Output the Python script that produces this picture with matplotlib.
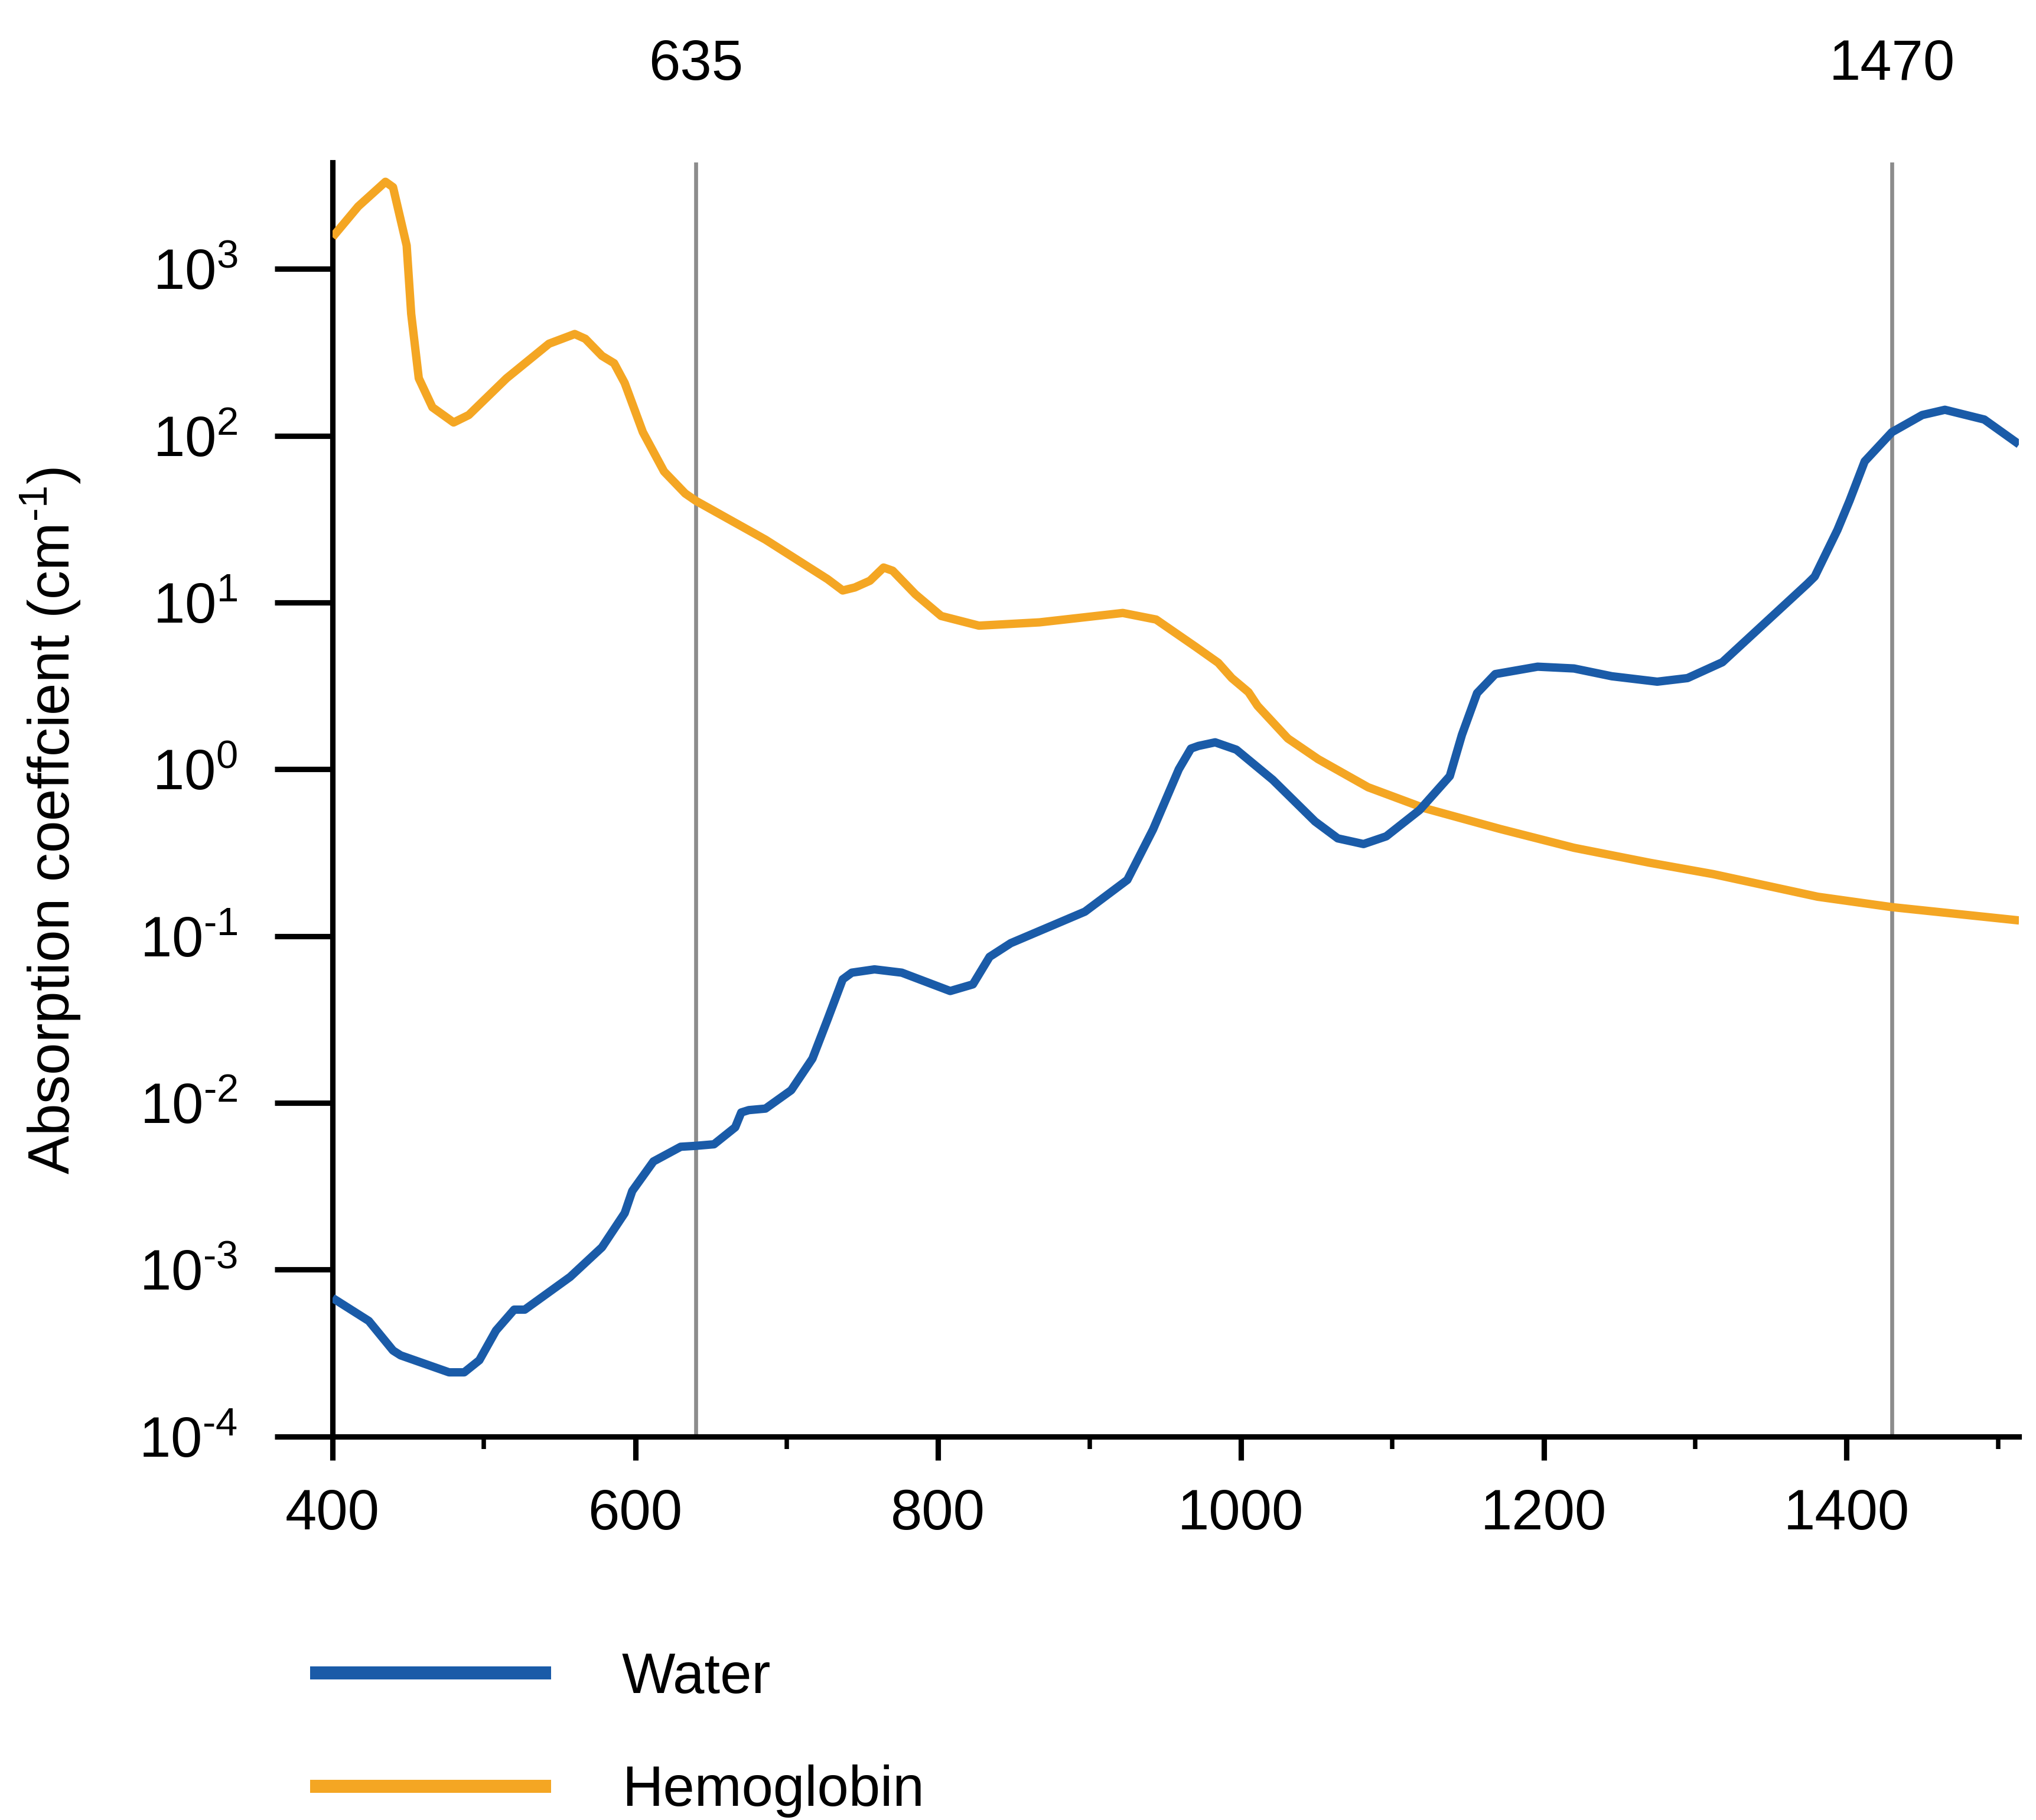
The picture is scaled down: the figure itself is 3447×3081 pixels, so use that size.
import matplotlib
matplotlib.use("Agg")
import matplotlib.pyplot as plt
import matplotlib.ticker as mticker
import matplotlib.transforms as mtransforms

# values (wavelength in nm, absorption coefficient in cm^-1)
hb_wl = [400, 417, 435, 440, 449, 452, 457, 466, 480, 490, 515, 543, 560, 567,
         578, 586, 593, 605, 619, 633, 640, 686, 727, 737, 745, 755, 764, 770,
         785, 802, 827, 867, 922, 944, 970, 985, 994, 1005, 1011, 1031, 1051,
         1084, 1121, 1171, 1220, 1270, 1312, 1381, 1430, 1514]
hb_abs = [1550, 2370, 3330, 3090, 1380, 537, 221, 148, 120, 133, 221, 356, 407, 381,
          301, 272, 207, 105, 61, 45, 40.7, 23.8, 13.8, 11.8, 12.3, 13.5, 16.2, 15.5,
          11.2, 8.3, 7.26, 7.6, 8.65, 7.9, 5.43, 4.35, 3.52, 2.9, 2.4, 1.53, 1.15,
          0.78, 0.585, 0.439, 0.338, 0.275, 0.235, 0.172, 0.149, 0.124]

water_wl = [400, 424, 440, 445, 477, 487, 497, 508, 520, 527, 557, 578, 593, 598,
            612, 630, 640, 652, 666, 670, 675, 686, 703, 717, 727, 737, 743, 758,
            776, 808, 823, 834, 848, 897, 925, 942, 959, 967, 972, 983, 997, 1021,
            1049, 1064, 1081, 1096, 1118, 1138, 1146, 1156, 1168, 1196, 1220, 1245,
            1275, 1295, 1318, 1374, 1379, 1394, 1402, 1412, 1430, 1450, 1465, 1491,
            1514]
water_abs = [6.76e-4, 4.92e-4, 3.27e-4, 3.06e-4, 2.42e-4, 2.42e-4, 2.86e-4, 4.31e-4,
             5.75e-4, 5.75e-4, 9.04e-4, 1.36e-3, 2.18e-3, 2.96e-3, 4.45e-3, 5.45e-3,
             5.52e-3, 5.64e-3, 7.13e-3, 8.75e-3, 9.04e-3, 9.23e-3, 1.19e-2, 1.84e-2,
             3.16e-2, 5.5e-2, 6.03e-2, 6.31e-2, 6.03e-2, 4.68e-2, 5.13e-2, 7.5e-2,
             9.06e-2, 0.140, 0.217, 0.436, 1.0, 1.33, 1.38, 1.45, 1.31, 0.865,
             0.486, 0.385, 0.356, 0.396, 0.569, 0.91, 1.61, 2.86, 3.72, 4.12, 4.02,
             3.61, 3.35, 3.52, 4.38, 12.9, 14.3, 27.2, 40.7, 70.1, 105, 133, 143,
             125, 88.7]

# marked laser wavelengths: where the line is drawn and what is written above it
mark_pos = [640, 1430]
mark_text = ["635", "1470"]

x_major = [400, 600, 800, 1000, 1200, 1400]
x_minor = [500, 700, 900, 1100, 1300, 1500]
y_exps = [-4, -3, -2, -1, 0, 1, 2, 3]

BLUE = "#1A5BA8"
ORANGE = "#F4A623"
GREY = "#8C8C8C"

plt.rcParams["font.family"] = ["Liberation Sans", "DejaVu Sans"]
plt.rcParams["mathtext.fontset"] = "custom"
plt.rcParams["mathtext.rm"] = "Liberation Sans"
plt.rcParams["mathtext.it"] = "Liberation Sans:italic"
plt.rcParams["mathtext.bf"] = "Liberation Sans:bold"


def exp_label(e):
    # short hyphen instead of the wide math minus, like the original
    if e < 0:
        return r"$\mathregular{10^{\text{-}%d}}$" % (-e)
    return r"$\mathregular{10^{%d}}$" % e


fig = plt.figure(figsize=(3447 / 300, 3081 / 300), dpi=300)
ax = fig.add_axes([0.1633, 0.2108, 0.9917 - 0.1633, 0.9108 - 0.2108])

for xv in mark_pos:
    ax.axvline(xv, color=GREY, lw=1.6, zorder=1)

hb_line, = ax.plot(hb_wl, hb_abs, color=ORANGE, lw=3.4, zorder=3,
                   solid_joinstyle="round", solid_capstyle="butt")
w_line, = ax.plot(water_wl, water_abs, color=BLUE, lw=3.4, zorder=4,
                  solid_joinstyle="round", solid_capstyle="butt")

ax.set_yscale("log")
ax.set_xlim(400, 1514)
ax.set_ylim(1e-4, 4355)

ax.xaxis.set_major_locator(mticker.FixedLocator(x_major))
ax.xaxis.set_minor_locator(mticker.FixedLocator(x_minor))
ax.yaxis.set_major_locator(mticker.FixedLocator([10.0 ** e for e in y_exps]))
ax.yaxis.set_major_formatter(mticker.FixedFormatter([exp_label(e) for e in y_exps]))
ax.yaxis.set_minor_locator(mticker.NullLocator())

for side in ("top", "right"):
    ax.spines[side].set_visible(False)
for side in ("left", "bottom"):
    ax.spines[side].set_linewidth(2.2)
    ax.spines[side].set_color("black")

ax.tick_params(axis="y", which="major", length=23.5, width=2.2, pad=15,
               labelsize=23, direction="out")
ax.tick_params(axis="x", which="major", length=9.6, width=2.2, pad=11.5,
               labelsize=23, direction="out")
ax.tick_params(axis="x", which="minor", length=5, width=1.8, direction="out")

ax.set_ylabel(r"Absorption coeffcient (cm$^{\mathregular{\text{-}1}}$)", fontsize=23.5)
ax.yaxis.set_label_coords(-0.1484, 0.4834)

# labels above the marker lines
trans = mtransforms.blended_transform_factory(ax.transData, fig.transFigure)
for xv, txt in zip(mark_pos, mark_text):
    ax.text(xv, 0.9562, txt, transform=trans, ha="center", va="baseline",
            fontsize=23, clip_on=False)

leg = ax.legend([w_line, hb_line], ["Water", "Hemoglobin"],
                loc="upper left", bbox_to_anchor=(0.1523, 0.0926),
                bbox_transform=fig.transFigure, frameon=False, fontsize=23,
                handlelength=4.26, handletextpad=1.25, labelspacing=1.06,
                borderpad=0, borderaxespad=0)
for ln in leg.get_lines():
    ln.set_linewidth(5.3)

fig.savefig("out.png", dpi=300)
